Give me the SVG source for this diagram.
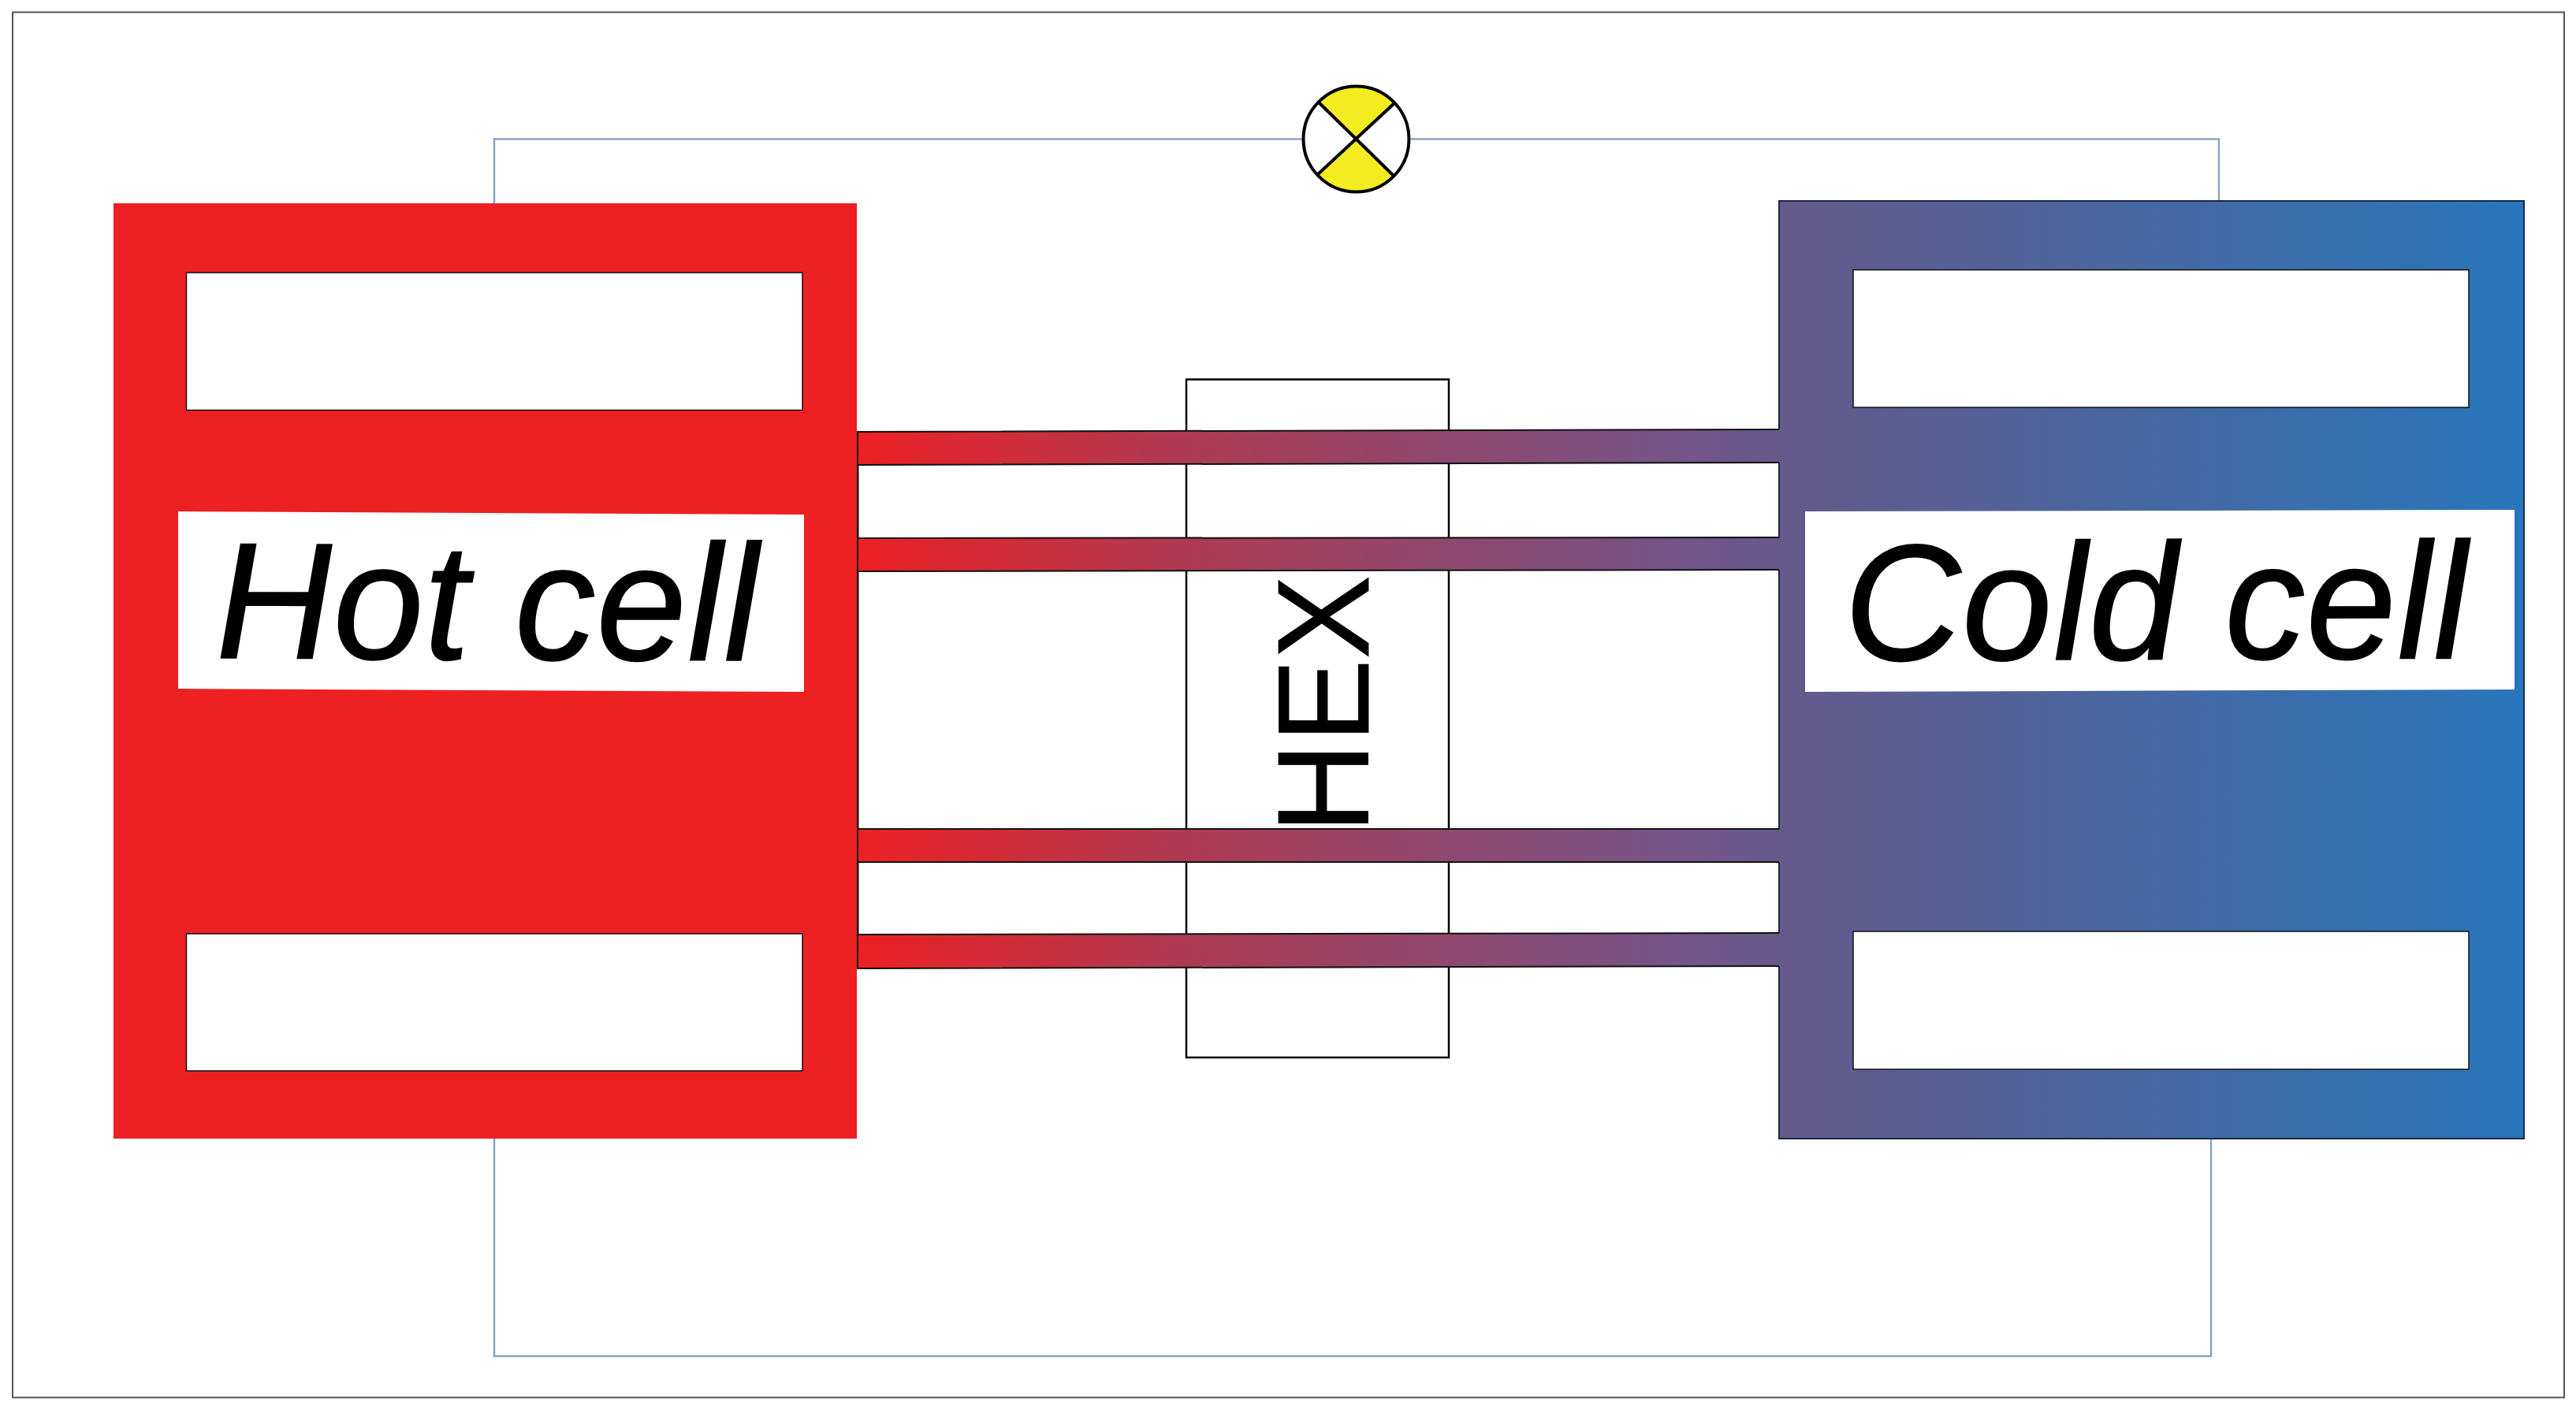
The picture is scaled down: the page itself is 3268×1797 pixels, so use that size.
<svg xmlns="http://www.w3.org/2000/svg" width="3268" height="1797" viewBox="0 0 3268 1797">
<style>
.wire{fill:none;stroke:#8aa2c4;stroke-width:2.5}
.win{fill:#fff;stroke:#111;stroke-width:1.5}
.tube{fill:url(#tubeGrad)}
.edge{fill:none;stroke:#111;stroke-width:2}
.lbl{font-family:"Liberation Sans",Arial,sans-serif;fill:#000;stroke:#000;stroke-width:0.800}
.ital{font-style:italic;font-size:218px;stroke-width:1.500}
.lamp{stroke:#000;stroke-width:4}
</style>
<defs>
<linearGradient id="tubeGrad" gradientUnits="userSpaceOnUse" x1="1087" y1="0" x2="2257" y2="0">
<stop offset="0" stop-color="#ed2024"/><stop offset="0.353" stop-color="#ae3a52"/><stop offset="0.91" stop-color="#73558a"/><stop offset="1" stop-color="#65598a"/>
</linearGradient>
<linearGradient id="coldGrad" gradientUnits="userSpaceOnUse" x1="2257" y1="0" x2="3202" y2="0">
<stop offset="0" stop-color="#65598a"/><stop offset="1" stop-color="#2776bb"/>
</linearGradient>
</defs>
<rect width="3268" height="1797" fill="#fff"/>
<rect id="frame" x="16" y="15.500" width="3237" height="1758" fill="none" stroke="#555" stroke-width="2"/>
<g id="connectors">
<path class="wire" d="M627 258V176.500H1652"/>
<path class="wire" d="M1790 176.500H2815V255"/>
<path class="wire" d="M627 1444V1721H2805V1445"/>
</g>
<g id="hex">
<rect x="1505" y="481.500" width="333" height="860.500" fill="#fff" stroke="#000" stroke-width="2.500"/>
</g>
<path d="M1088 548V1229" fill="none" stroke="#111" stroke-width="3"/>
<g id="hot-cell">
<rect x="144" y="258" width="943" height="1187" fill="#ed2024"/>
<rect class="win" x="236.500" y="346" width="781.500" height="174.500"/>
<rect class="win" x="236.500" y="1185" width="781.500" height="174"/>
<polygon points="226,649 1020,653 1020,878 226,874" fill="#fff"/>
<text class="lbl ital" transform="translate(274 835) rotate(0.260) skewX(1.300) scale(0.950 0.965)">Hot cell</text>
</g>
<g id="cold-cell">
<rect x="2257" y="255" width="945" height="1190" fill="url(#coldGrad)" stroke="#1a2a40" stroke-width="2"/>
<rect class="win" x="2351" y="342.500" width="781" height="174.500"/>
<rect class="win" x="2351" y="1182" width="781" height="175"/>
<polygon points="2290,649 3190,647 3190,875 2290,878" fill="#fff"/>
<text class="lbl ital" transform="translate(2341 838) rotate(-0.200) skewX(1.300) scale(0.948 0.965)">Cold cell</text>
</g>
<g id="tubes">
<polygon class="tube" points="1089,548 2259,545 2259,587 1089,590"/>
<polygon class="tube" points="1089,683 2259,682 2259,723 1089,725"/>
<polygon class="tube" points="1089,1052 2259,1052 2259,1094 1089,1094"/>
<polygon class="tube" points="1089,1186 2259,1184 2259,1226 1089,1229"/>
<path class="edge" d="M1087 548L2257 545M1087 590L2257 587M1087 683L2257 682M1087 725L2257 723M1087 1052H2257M1087 1094H2257M1087 1186L2257 1184M1087 1229L2257 1226"/>
</g>
<text class="lbl" transform="translate(1736 1057.500) rotate(-90) scale(0.960 1)" font-size="166">HEX</text>
<g id="lamp">
<circle cx="1720.500" cy="176.500" r="67" fill="#fff"/>
<path d="M1672 129A67 67 0 0 1 1770 130L1720.500 176.500Z" fill="#f2ec20"/>
<path d="M1671 222A67 67 0 0 0 1768 223L1720.500 176.500Z" fill="#f2ec20"/>
<circle class="lamp" cx="1720.500" cy="176.500" r="67" fill="none"/>
<path class="lamp" d="M1672 129L1768 223M1770 130L1671 222" fill="none"/>
</g>
</svg>
